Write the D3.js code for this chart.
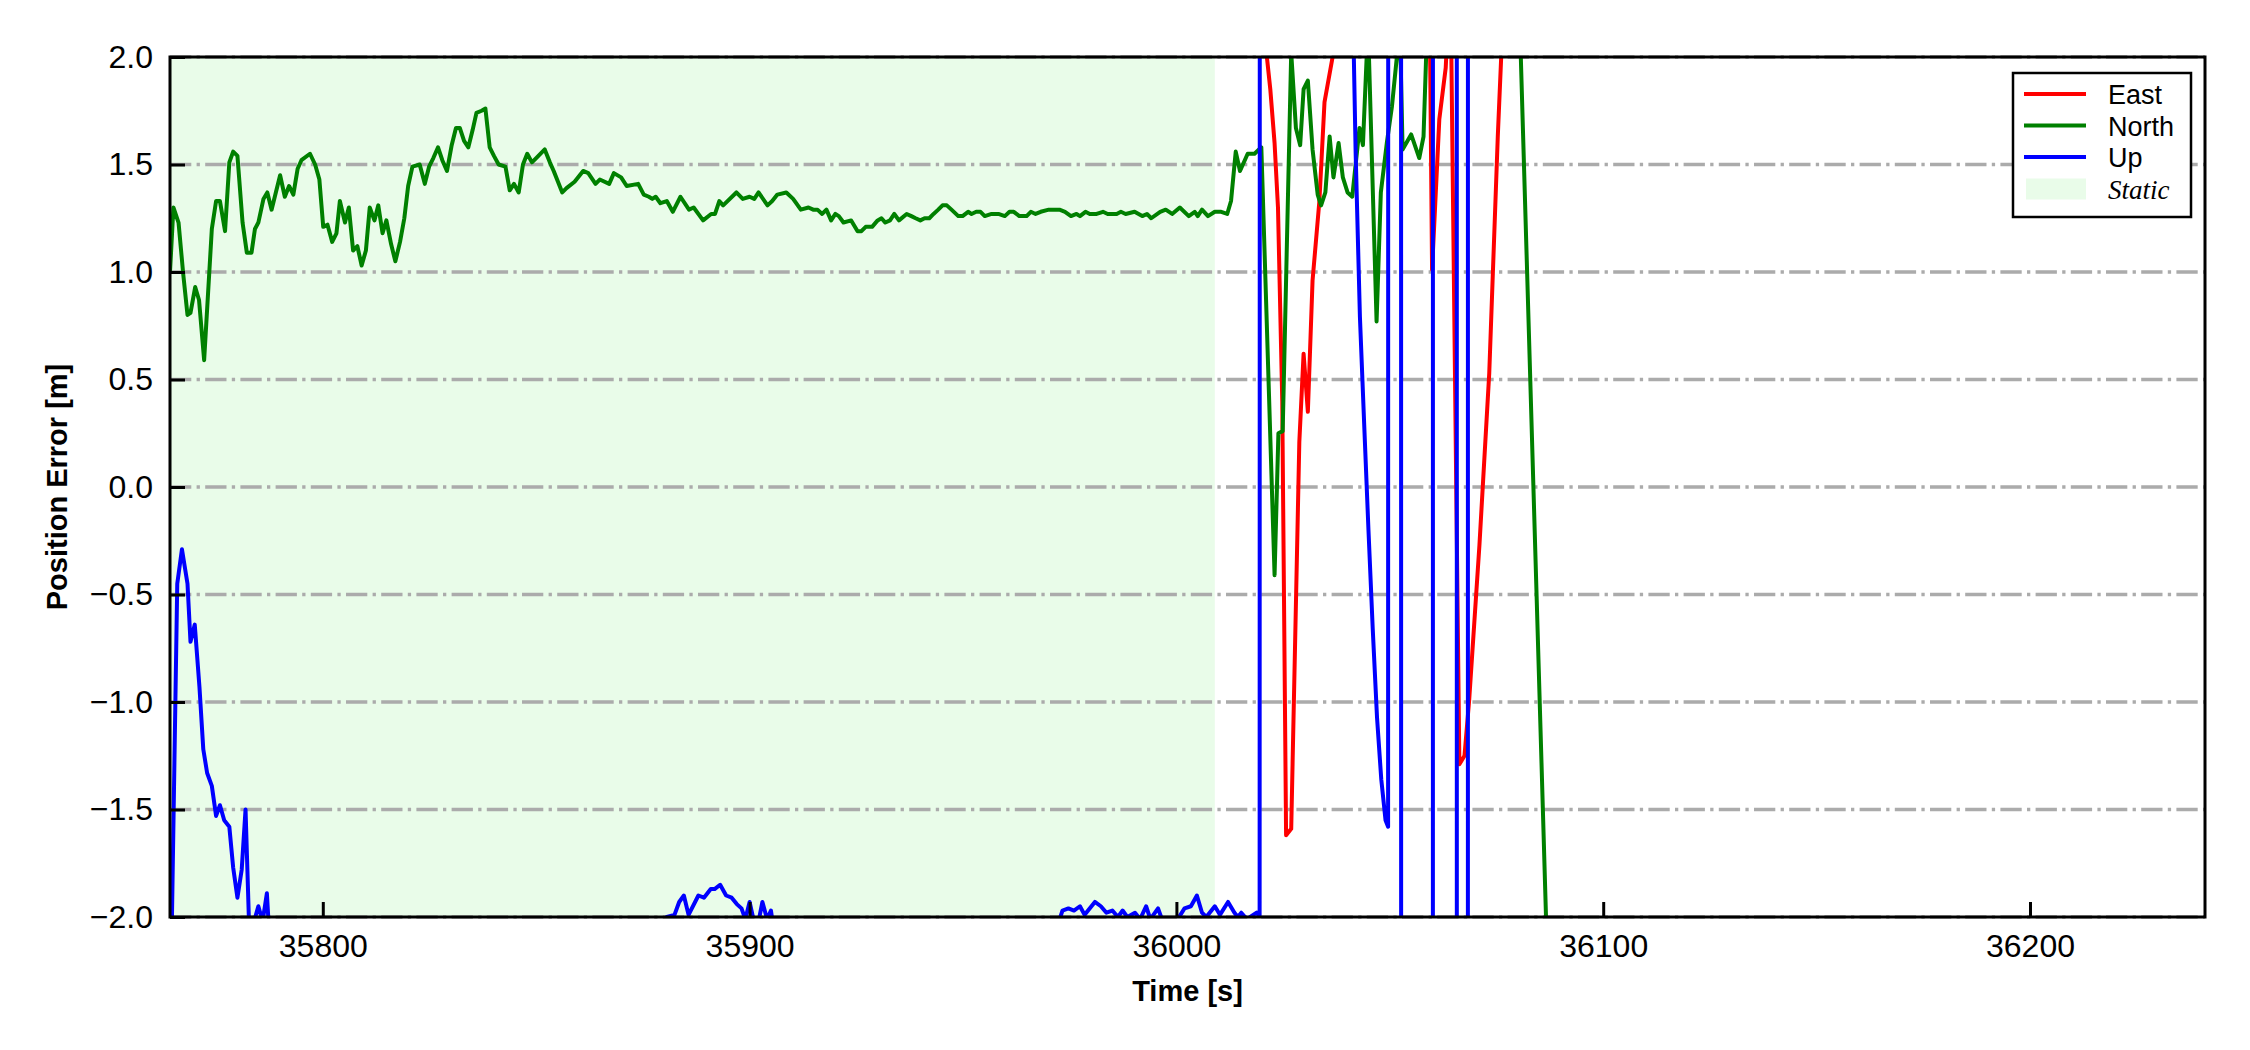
<!DOCTYPE html>
<html>
<head>
<meta charset="utf-8">
<script src="https://cdn.jsdelivr.net/npm/d3@7"></script>
<style>
  body { margin: 0; background: #fff; }
  svg { display: block; font-family: "Liberation Sans", Arial, sans-serif; }
</style>
</head>
<body>
<svg id="chart" width="2250" height="1050"></svg>
<script>
/* Position error (East / North / Up) against time, with the static period shaded. */

// [time (s), error (m)]
const eastData = [
  [36015, 3.2], [36020.2, 2.6], [36021.2, 2.0], [36022, 1.85], [36023, 1.6], [36023.8, 1.3],
  [36024.8, 0.4], [36025.7, -1.62], [36026.9, -1.59], [36028.8, 0.21], [36029.8, 0.62],
  [36030.8, 0.35], [36031.9, 0.96], [36033.5, 1.33], [36034.7, 1.79], [36036.6, 2.0],
  [36038, 2.6], [36050, 3.4], [36059, 3.0], [36059.9, 1.01], [36061.6, 1.71], [36063.1, 1.95],
  [36064.2, 2.4], [36066.3, -1.29], [36067.5, -1.25], [36068.6, -0.99], [36071.0, -0.27],
  [36073.3, 0.53], [36075.3, 1.63], [36076.1, 2.0], [36078, 2.8], [36085, 3.5]
];

const northData = [
  [35764.2, 1.00], [35765.0, 1.30], [35766.2, 1.23], [35767.3, 0.99], [35768.3, 0.80],
  [35769.0, 0.81], [35770.1, 0.93], [35771.0, 0.87], [35772.2, 0.59], [35774.0, 1.20],
  [35775.0, 1.33], [35775.9, 1.33], [35777.1, 1.19], [35778.1, 1.51], [35779.0, 1.56],
  [35780.0, 1.54], [35781.2, 1.23], [35782.2, 1.09], [35783.3, 1.09], [35784.1, 1.20],
  [35784.9, 1.23], [35786.1, 1.34], [35787.0, 1.37], [35788.0, 1.29], [35789.0, 1.37],
  [35790.0, 1.45], [35791.1, 1.35], [35792.1, 1.40], [35793.1, 1.36], [35794.1, 1.48],
  [35795.0, 1.52], [35797.0, 1.55], [35798.2, 1.50], [35799.2, 1.43], [35800.1, 1.21],
  [35801.1, 1.22], [35802.2, 1.14], [35803.2, 1.18], [35804.0, 1.33], [35805.2, 1.23],
  [35806.1, 1.30], [35807.1, 1.10], [35808.1, 1.12], [35809.1, 1.03], [35810.1, 1.10],
  [35811.0, 1.30], [35812.1, 1.24], [35813.0, 1.31], [35814.0, 1.18], [35814.9, 1.24],
  [35816.0, 1.13], [35817.0, 1.05], [35818.1, 1.14], [35819.1, 1.25], [35820.0, 1.40],
  [35821.0, 1.49], [35822.7, 1.50], [35823.9, 1.41], [35824.9, 1.49], [35825.9, 1.53],
  [35827.0, 1.58], [35828.0, 1.52], [35829.1, 1.47], [35830.2, 1.59], [35831.2, 1.67],
  [35832.1, 1.67], [35833.1, 1.61], [35834.1, 1.58], [35835.1, 1.66], [35836.0, 1.74],
  [35837.2, 1.75], [35838.1, 1.76], [35839.1, 1.58], [35840.1, 1.54], [35841.2, 1.50],
  [35842.8, 1.49], [35843.8, 1.38], [35844.8, 1.41], [35845.9, 1.37], [35846.9, 1.50],
  [35847.9, 1.55], [35849.0, 1.51], [35850.0, 1.53], [35852.0, 1.57], [35853.2, 1.51],
  [35854.1, 1.47], [35855.1, 1.42], [35856.1, 1.37], [35857.1, 1.39], [35859.0, 1.42],
  [35861.0, 1.47], [35862.2, 1.46], [35863.9, 1.41], [35864.9, 1.43], [35867.1, 1.41],
  [35868.2, 1.46], [35869.9, 1.44], [35871.2, 1.40], [35873.9, 1.41], [35875.2, 1.36],
  [35876.4, 1.35], [35877.2, 1.34], [35878.0, 1.35], [35879.1, 1.32], [35880.6, 1.33],
  [35882.0, 1.28], [35883.8, 1.35], [35885.8, 1.29], [35886.9, 1.30], [35889.1, 1.24],
  [35891.0, 1.27], [35891.9, 1.27], [35892.9, 1.33], [35893.8, 1.31], [35896.9, 1.37],
  [35898.4, 1.34], [35900.0, 1.35], [35901.1, 1.34], [35902.1, 1.37], [35904.2, 1.31],
  [35905.3, 1.33], [35906.5, 1.36], [35908.6, 1.37], [35910.2, 1.34], [35912.0, 1.29],
  [35913.8, 1.30], [35914.9, 1.29], [35915.9, 1.29], [35917.0, 1.27], [35918.0, 1.29],
  [35919.1, 1.24], [35920.1, 1.27], [35920.9, 1.26], [35922.0, 1.23], [35923.8, 1.24],
  [35925.3, 1.19], [35926.2, 1.19], [35927.2, 1.21], [35928.7, 1.21], [35930.0, 1.24],
  [35930.9, 1.25], [35931.8, 1.23], [35932.9, 1.24], [35933.9, 1.27], [35935.0, 1.24],
  [35936.8, 1.27], [35937.9, 1.26], [35938.9, 1.25], [35940.0, 1.24], [35941.0, 1.25],
  [35942.1, 1.25], [35943.1, 1.27], [35944.2, 1.29], [35945.2, 1.31], [35946.2, 1.31],
  [35947.3, 1.29], [35948.9, 1.26], [35949.9, 1.26], [35951.2, 1.28], [35952.0, 1.27],
  [35953.1, 1.28], [35954.1, 1.28], [35955.1, 1.26], [35956.7, 1.27], [35958.3, 1.27],
  [35959.8, 1.26], [35960.9, 1.28], [35961.9, 1.28], [35963.2, 1.26], [35964.9, 1.26],
  [35965.9, 1.28], [35967.0, 1.27], [35968.2, 1.28], [35970.1, 1.29], [35971.3, 1.29],
  [35972.6, 1.29], [35973.9, 1.28], [35975.3, 1.26], [35976.6, 1.27], [35977.4, 1.26],
  [35978.7, 1.28], [35979.7, 1.27], [35981.3, 1.27], [35982.8, 1.28], [35983.9, 1.27],
  [35986.0, 1.27], [35987.0, 1.28], [35988.1, 1.27], [35990.2, 1.28], [35992.0, 1.26],
  [35993.1, 1.27], [35994.1, 1.25], [35996.2, 1.28], [35997.5, 1.29], [35999.0, 1.27],
  [36000.8, 1.30], [36002.9, 1.26], [36004.3, 1.28], [36005.0, 1.26], [36006.0, 1.29],
  [36007.4, 1.26], [36009.0, 1.28], [36010.5, 1.28], [36011.9, 1.27], [36012.8, 1.33],
  [36013.9, 1.56], [36014.9, 1.47], [36016.7, 1.55], [36018.3, 1.55], [36019.9, 1.58],
  [36023.0, -0.41], [36023.9, 0.25], [36024.9, 0.26], [36026.9, 2.02], [36028.0, 1.67],
  [36029.0, 1.59], [36029.8, 1.85], [36030.8, 1.89], [36031.9, 1.57], [36033.1, 1.36],
  [36033.9, 1.31], [36034.9, 1.37], [36035.9, 1.63], [36036.8, 1.44], [36038.0, 1.60],
  [36039.0, 1.44], [36040.1, 1.37], [36041.2, 1.35], [36042.9, 1.67], [36043.7, 1.59],
  [36044.9, 2.15], [36046.9, 0.77], [36047.9, 1.37], [36049.3, 1.60], [36050.5, 1.77],
  [36051.9, 2.05], [36052.3, 2.2], [36053.0, 1.57], [36055.0, 1.64], [36056.9, 1.53],
  [36057.9, 1.63], [36059.0, 2.3], [36070.0, 3.0], [36080.0, 2.47], [36087.0, -2.27],
  [36095.0, -2.8]
];

const upData = [
  [35764.5, -2.2], [35765.9, -0.45], [35767.0, -0.29], [35768.3, -0.45], [35769.0, -0.72],
  [35770.0, -0.64], [35771.1, -0.93], [35772.0, -1.22], [35772.9, -1.33], [35774.0, -1.39],
  [35775.0, -1.53], [35775.9, -1.48], [35776.9, -1.55], [35778.1, -1.58], [35779.0, -1.77],
  [35780.0, -1.91], [35781.0, -1.78], [35781.9, -1.50], [35782.9, -2.15], [35783.9, -2.02],
  [35784.9, -1.95], [35785.9, -2.02], [35786.9, -1.89], [35787.8, -2.2], [35830.0, -2.6],
  [35879.5, -2.1], [35880.6, -2.00], [35882.4, -1.99], [35883.5, -1.93], [35884.6, -1.90],
  [35885.7, -1.99], [35888.0, -1.90], [35889.3, -1.91], [35890.9, -1.87], [35891.8, -1.87],
  [35893.1, -1.85], [35894.5, -1.90], [35895.8, -1.91], [35897.0, -1.94], [35898.1, -1.96],
  [35899.0, -2.01], [35900.0, -1.93], [35900.9, -2.01], [35902.0, -2.03], [35903.0, -1.93],
  [35904.1, -2.01], [35905.0, -1.97], [35905.6, -2.05], [35940.0, -2.5], [35972.0, -2.05],
  [35973.3, -1.97], [35974.7, -1.96], [35976.0, -1.97], [35977.4, -1.95], [35978.5, -1.99],
  [35980.9, -1.93], [35982.3, -1.95], [35983.6, -1.98], [35985.0, -1.97], [35986.3, -2.0],
  [35987.4, -1.97], [35988.5, -2.0], [35990.3, -1.98], [35991.5, -2.01], [35992.9, -1.95],
  [35993.9, -2.01], [35995.7, -1.96], [35996.6, -2.01], [35998.0, -2.02], [36000.0, -2.02],
  [36001.9, -1.96], [36003.4, -1.95], [36004.8, -1.90], [36006.0, -1.98], [36007.0, -2.0],
  [36009.0, -1.95], [36010.2, -1.99], [36012.1, -1.93], [36013.6, -1.98], [36014.4, -2.0],
  [36015.2, -1.98], [36016.5, -2.01], [36018.8, -1.98], [36019.5, -2.0], [36020.0, 60],
  [36040.0, 60], [36041.0, 2.6], [36042.0, 1.55], [36043.0, 0.79], [36044.0, 0.29],
  [36045.0, -0.2], [36046.0, -0.66], [36047.0, -1.07], [36048.0, -1.36], [36049.0, -1.55],
  [36049.6, -1.58], [36050.0, 60], [36052.5, 60], [36052.8, -60], [36060.0, -60],
  [36060.2, 60], [36065.6, 60], [36065.8, -60], [36068.2, -60], [36068.4, 60], [36080.0, 60]
];

const seriesNames = ["East", "North", "Up"];
const seriesColors = ["#ff0000", "#008000", "#0000ff"];
const staticSpan = [35760, 36009];
const staticLabel = "Static";
const xTicks = [35800, 35900, 36000, 36100, 36200];
const yTicks = [-2, -1.5, -1, -0.5, 0, 0.5, 1, 1.5, 2];
const xDomain = [35764.2, 36241];
const yDomain = [-2, 2];

const margin = { top: 57, right: 45, bottom: 133, left: 170 },
  width = 2250 - margin.left - margin.right,
  height = 1050 - margin.top - margin.bottom;

const svg = d3.select("#chart");

const x = d3.scaleLinear().domain(xDomain).range([0, width]);
const y = d3.scaleLinear().domain(yDomain).range([height, 0]);

const g = svg
  .append("g")
  .attr("transform", "translate(" + margin.left + "," + margin.top + ")");

g.append("defs")
  .append("clipPath")
  .attr("id", "plot-clip")
  .append("rect")
  .attr("width", width)
  .attr("height", height);

// static period shading
g.append("rect")
  .attr("clip-path", "url(#plot-clip)")
  .attr("x", x(staticSpan[0]))
  .attr("y", 0)
  .attr("width", x(staticSpan[1]) - x(staticSpan[0]))
  .attr("height", height)
  .attr("fill", "rgb(233,252,233)");

// dash-dot horizontal grid
g.append("g")
  .selectAll("line")
  .data(yTicks)
  .join("line")
  .attr("x1", 0)
  .attr("x2", width)
  .attr("y1", (d) => y(d))
  .attr("y2", (d) => y(d))
  .attr("stroke", "#ababab")
  .attr("stroke-width", 3.3)
  .attr("stroke-dasharray", "21.3,5.3,3.3,5.3");

// the three error lines
const line = d3
  .line()
  .x((d) => x(d[0]))
  .y((d) => y(d[1]));

const allSeries = [eastData, northData, upData];

g.append("g")
  .attr("clip-path", "url(#plot-clip)")
  .selectAll("path")
  .data(allSeries)
  .join("path")
  .attr("d", line)
  .attr("fill", "none")
  .attr("stroke", (d, i) => seriesColors[i])
  .attr("stroke-width", 4)
  .attr("stroke-linejoin", "round");

// axes, ticks pointing inward
const xAxis = d3.axisBottom(x).tickValues(xTicks).tickSize(-15).tickPadding(17).tickFormat(d3.format("d"));
const yAxis = d3.axisLeft(y).tickValues(yTicks).tickSize(-15).tickPadding(17).tickFormat(d3.format(".1f"));

const gx = g.append("g").attr("transform", `translate(0, ${height})`).call(xAxis);
const gy = g.append("g").call(yAxis);

[gx, gy].forEach((a) => {
  a.select(".domain").remove();
  a.selectAll(".tick line").attr("stroke", "#000").attr("stroke-width", 3);
  a.selectAll(".tick text")
    .attr("fill", "#000")
    .style("font-size", "32px")
    .style("font-family", '"Liberation Sans", Arial, sans-serif');
});

// frame
g.append("rect")
  .attr("width", width)
  .attr("height", height)
  .attr("fill", "none")
  .attr("stroke", "#000")
  .attr("stroke-width", 3);

// axis labels
svg
  .append("text")
  .attr("x", margin.left + width / 2)
  .attr("y", 1001)
  .attr("text-anchor", "middle")
  .style("font-size", "29px")
  .style("font-weight", "bold")
  .text("Time [s]");

svg
  .append("text")
  .attr("transform", "translate(67," + (margin.top + height / 2) + ") rotate(-90)")
  .attr("text-anchor", "middle")
  .style("font-size", "29px")
  .style("font-weight", "bold")
  .text("Position Error [m]");

// legend
const legend = svg.append("g").attr("transform", "translate(2013,73)");

legend
  .append("rect")
  .attr("width", 178)
  .attr("height", 144)
  .attr("fill", "#fff")
  .attr("stroke", "#000")
  .attr("stroke-width", 2.5);

const rowY = (i) => 21 + i * 31.5;

legend
  .selectAll("line")
  .data(seriesNames)
  .join("line")
  .attr("x1", 11)
  .attr("x2", 73)
  .attr("y1", (d, i) => rowY(i))
  .attr("y2", (d, i) => rowY(i))
  .attr("stroke", (d, i) => seriesColors[i])
  .attr("stroke-width", 4);

legend
  .append("rect")
  .attr("x", 13)
  .attr("y", rowY(3) - 10)
  .attr("width", 60)
  .attr("height", 21)
  .attr("fill", "rgb(233,252,233)");

legend
  .selectAll("text.lab")
  .data(seriesNames)
  .join("text")
  .attr("class", "lab")
  .attr("x", 95)
  .attr("y", (d, i) => rowY(i) + 10)
  .style("font-size", "27px")
  .text((d) => d);

legend
  .append("text")
  .attr("x", 95)
  .attr("y", rowY(3) + 10)
  .style("font-size", "27px")
  .style("font-family", '"Liberation Serif", "Times New Roman", serif')
  .style("font-style", "italic")
  .text(staticLabel);
</script>
</body>
</html>
